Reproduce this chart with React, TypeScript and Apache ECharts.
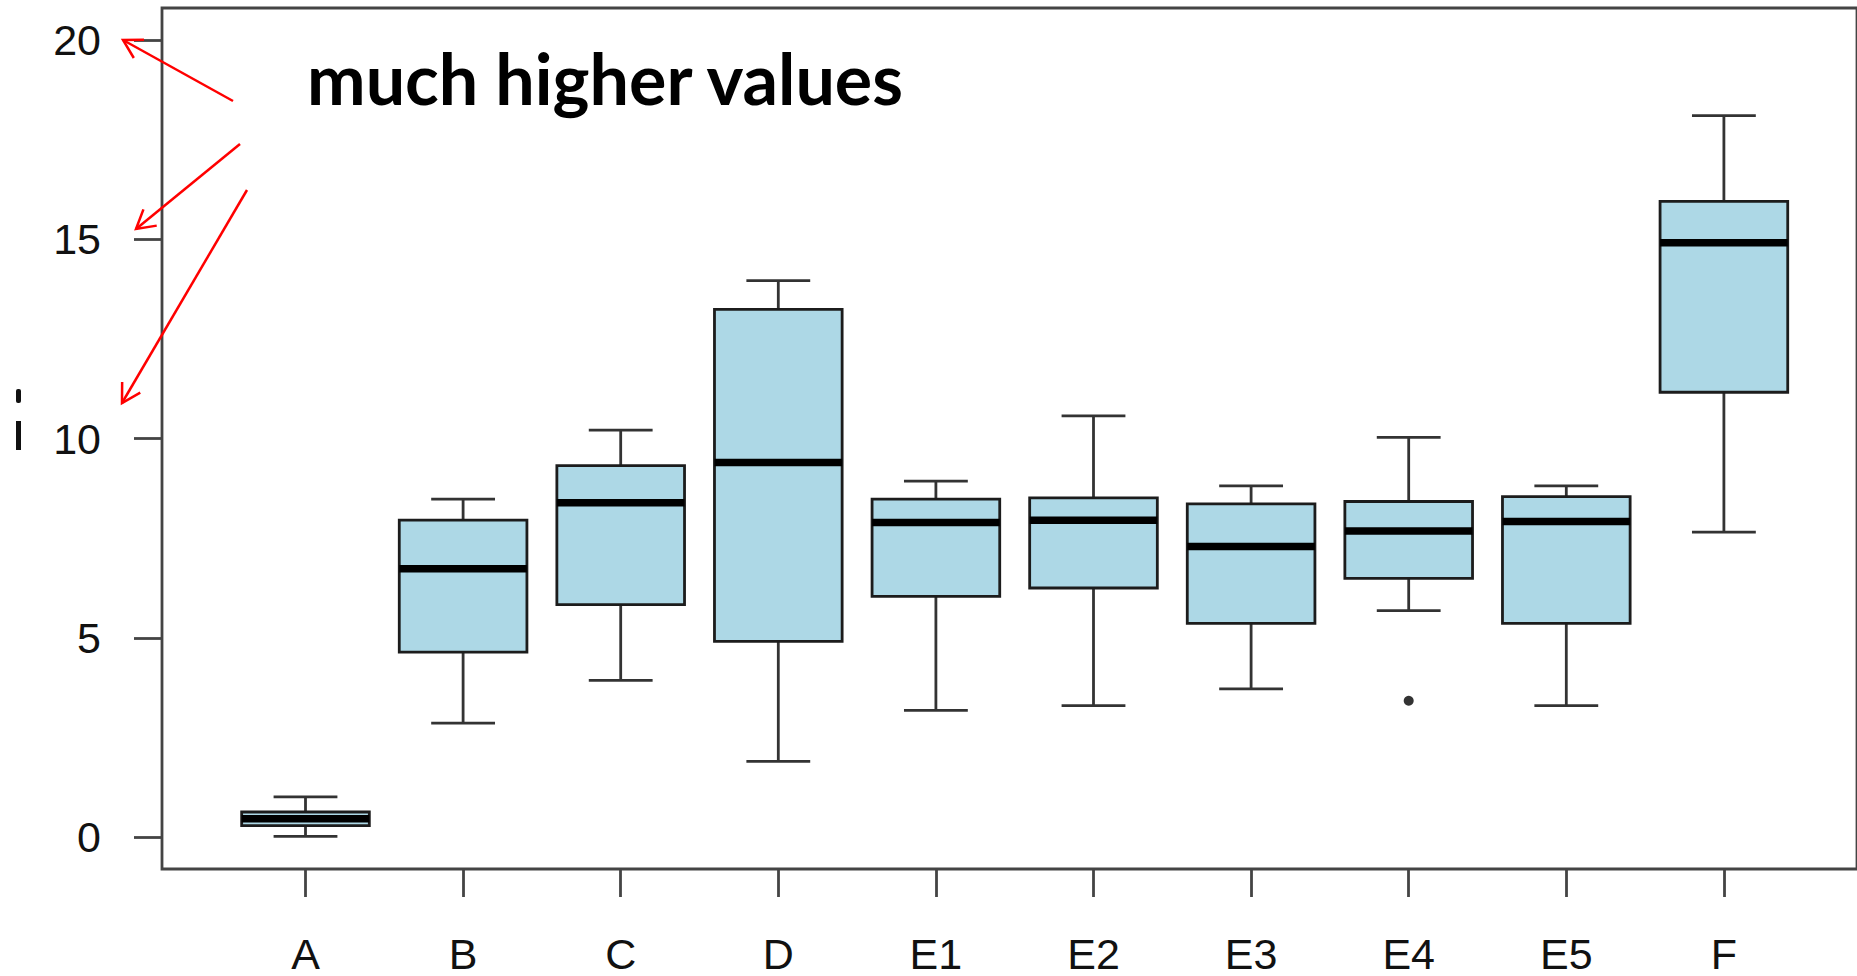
import React, { useEffect, useRef } from "react";
import * as echarts from "echarts";

// Box-and-whisker summaries per group
const categories = ["A", "B", "C", "D", "E1", "E2", "E3", "E4", "E5", "F"];
const whiskerLow = [0.02, 2.86, 3.93, 1.9, 3.18, 3.3, 3.72, 5.68, 3.3, 7.65];
const quartile1 = [0.29, 4.64, 5.83, 4.91, 6.04, 6.25, 5.36, 6.49, 5.36, 11.16];
const medians = [0.46, 6.73, 8.39, 9.4, 7.89, 7.95, 7.29, 7.68, 7.92, 14.91];
const quartile3 = [0.63, 7.95, 9.32, 13.24, 8.48, 8.51, 8.36, 8.42, 8.54, 15.95];
const whiskerHigh = [1.01, 8.48, 10.21, 13.96, 8.93, 10.57, 8.81, 10.03, 8.81, 18.1];
const outlierGroups = ["E4"];
const outlierValues = [3.42];
const yTickValues = [0, 5, 10, 15, 20];
const note = "much higher values";

// Red annotation arrows: [tailX, tailY, tipX, tipY]
const arrows = [
  [233, 101, 123, 40],
  [240, 144, 136, 229],
  [247, 190, 122, 403],
];

function arrowHead(tx: number, ty: number, hx: number, hy: number, len: number) {
  const ang = Math.atan2(ty - hy, tx - hx);
  const spread = (30 * Math.PI) / 180;
  const a1 = ang - spread;
  const a2 = ang + spread;
  return [
    [hx + len * Math.cos(a1), hy + len * Math.sin(a1)],
    [hx, hy],
    [hx + len * Math.cos(a2), hy + len * Math.sin(a2)],
  ];
}

export default function App() {
  const ref = useRef<HTMLDivElement>(null);

  useEffect(() => {
    if (!ref.current) return;
    const chart = echarts.init(ref.current, undefined, { renderer: "svg" });

    const boxData = categories.map((_, i) => [
      i,
      whiskerLow[i],
      quartile1[i],
      medians[i],
      quartile3[i],
      whiskerHigh[i],
    ]);

    const arrowGraphics: any[] = [];
    arrows.forEach(([tx, ty, hx, hy]) => {
      arrowGraphics.push({
        type: "line",
        shape: { x1: tx, y1: ty, x2: hx, y2: hy },
        style: { stroke: "#ff0000", lineWidth: 2.5 },
        z: 100,
      });
      arrowGraphics.push({
        type: "polyline",
        shape: { points: arrowHead(tx, ty, hx, hy, 21) },
        style: { stroke: "#ff0000", lineWidth: 2.5, fill: null },
        z: 100,
      });
    });

    const axisText = {
      fontFamily: "Liberation Sans",
      fontSize: 43,
      color: "#111111",
    };

    const option: any = {
      animation: false,
      backgroundColor: "#ffffff",
      grid: [
        { left: 226.7, right: 54.3, top: 8, bottom: 107, containLabel: false },
        {
          left: 162,
          right: -12,
          top: 8,
          bottom: 107,
          show: true,
          borderColor: "#444444",
          borderWidth: 2.8,
          backgroundColor: "transparent",
        },
      ],
      xAxis: [
        {
          type: "category",
          gridIndex: 0,
          position: "bottom",
          data: categories,
          boundaryGap: true,
          axisLine: { show: false, onZero: false },
          axisTick: {
            show: true,
            inside: false,
            alignWithLabel: true,
            length: 28,
            lineStyle: { color: "#444444", width: 2.8 },
          },
          axisLabel: { show: true, margin: 63, ...axisText },
          splitLine: { show: false },
        },
        { type: "value", gridIndex: 1, show: false, min: 0, max: 1 },
      ],
      yAxis: [
        {
          type: "value",
          gridIndex: 0,
          min: -0.8,
          max: 20.8,
          offset: 64.7,
          axisLine: { show: false, onZero: false },
          axisTick: {
            show: true,
            length: 28,
            customValues: yTickValues,
            lineStyle: { color: "#444444", width: 2.8 },
          },
          axisLabel: { show: true, margin: 61, customValues: yTickValues, ...axisText },
          splitLine: { show: false },
        },
        { type: "value", gridIndex: 1, show: false, min: 0, max: 1 },
      ],
      series: [
        {
          type: "custom",
          xAxisIndex: 0,
          yAxisIndex: 0,
          data: boxData,
          encode: { x: 0, y: [1, 2, 3, 4, 5] },
          renderItem: (params: any, api: any) => {
            const idx = api.value(0);
            const band = api.size([1, 0])[0];
            const bw = band * 0.81;
            const cw = bw / 2;
            const pLow = api.coord([idx, api.value(1)]);
            const pQ1 = api.coord([idx, api.value(2)]);
            const pMed = api.coord([idx, api.value(3)]);
            const pQ3 = api.coord([idx, api.value(4)]);
            const pHigh = api.coord([idx, api.value(5)]);
            const cx = pMed[0];
            const whisker = { stroke: "#333333", lineWidth: 2.8 };
            return {
              type: "group",
              children: [
                { type: "line", shape: { x1: cx, y1: pQ3[1], x2: cx, y2: pHigh[1] }, style: whisker },
                { type: "line", shape: { x1: cx, y1: pQ1[1], x2: cx, y2: pLow[1] }, style: whisker },
                { type: "line", shape: { x1: cx - cw / 2, y1: pHigh[1], x2: cx + cw / 2, y2: pHigh[1] }, style: whisker },
                { type: "line", shape: { x1: cx - cw / 2, y1: pLow[1], x2: cx + cw / 2, y2: pLow[1] }, style: whisker },
                {
                  type: "rect",
                  shape: { x: cx - bw / 2, y: pQ3[1], width: bw, height: pQ1[1] - pQ3[1] },
                  style: { fill: "#add8e6", stroke: "#1c1c1c", lineWidth: 2.8 },
                },
                {
                  type: "line",
                  shape: { x1: cx - bw / 2, y1: pMed[1], x2: cx + bw / 2, y2: pMed[1] },
                  style: { stroke: "#000000", lineWidth: 7.5 },
                },
              ],
            };
          },
        },
        {
          type: "scatter",
          xAxisIndex: 0,
          yAxisIndex: 0,
          data: outlierGroups.map((g, i) => [g, outlierValues[i]]),
          symbol: "circle",
          symbolSize: 10,
          itemStyle: { color: "#000000" },
        },
      ],
      graphic: [
        {
          type: "text",
          left: 307,
          top: 43,
          style: {
            text: note,
            fontFamily: "Lato",
            fontWeight: "bold",
            fontSize: 70,
            fill: "#000000",
          },
          z: 100,
        },
        // clipped fragments of the axis title at the far left edge
        { type: "rect", shape: { x: 16, y: 389, width: 5, height: 14, r: 2 }, style: { fill: "#111" } },
        { type: "rect", shape: { x: 16, y: 421, width: 5, height: 29 }, style: { fill: "#111" } },
        ...arrowGraphics,
      ],
    };

    chart.setOption(option);
    return () => chart.dispose();
  }, []);

  return (
    <div
      ref={ref}
      style={{ position: "fixed", left: 0, top: 0, width: 1857, height: 976, background: "#fff" }}
    />
  );
}
